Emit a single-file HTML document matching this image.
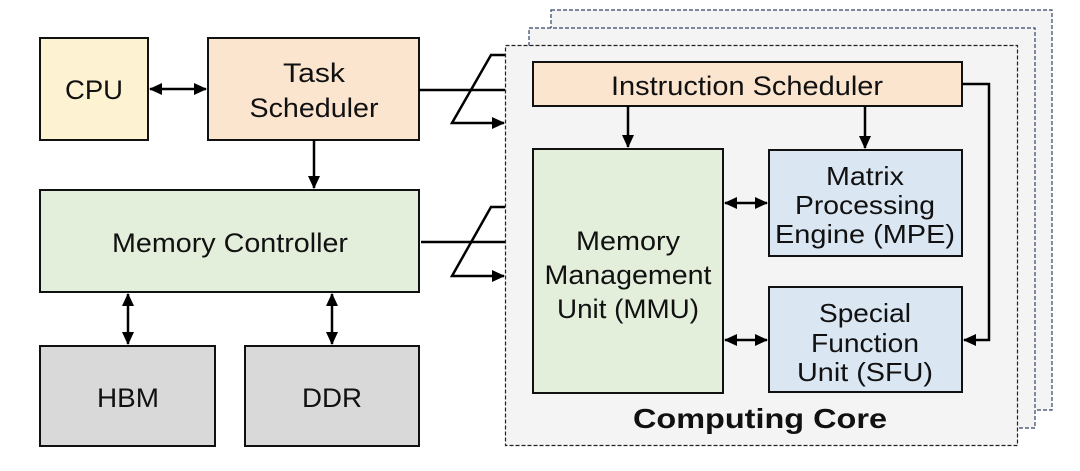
<!DOCTYPE html>
<html><head><meta charset="utf-8"><style>
html,body{margin:0;padding:0;background:#fff;}
svg{display:block;}
text{font-family:"Liberation Sans",Arial,sans-serif;fill:#111;}
</style></head><body>
<svg width="1080" height="471" viewBox="0 0 1080 471" xmlns="http://www.w3.org/2000/svg">
<defs>
<marker id="a" markerWidth="13" markerHeight="12" refX="12" refY="6" orient="auto-start-reverse" markerUnits="userSpaceOnUse">
<path d="M0,0 L13,6 L0,12 Z" fill="#000"/></marker>
</defs>
<rect x="551" y="10" width="501" height="400" fill="#f4f4f4" stroke="#334466" stroke-width="1.2" stroke-dasharray="4,2"/>
<rect x="529" y="28" width="506" height="400" fill="#f4f4f4" stroke="#334466" stroke-width="1.2" stroke-dasharray="4,2"/>
<rect x="505.5" y="45.5" width="512" height="400" fill="#f4f4f4" stroke="#222" stroke-width="1.2" stroke-dasharray="4,2"/>

<rect x="40" y="38" width="108" height="102" fill="#fdf3d2" stroke="#111" stroke-width="2"/>
<text x="94" y="99" font-size="27" text-anchor="middle" textLength="58" lengthAdjust="spacingAndGlyphs">CPU</text>
<rect x="208" y="38" width="211" height="102" fill="#fbe5cf" stroke="#111" stroke-width="2"/>
<text x="314" y="82" font-size="27" text-anchor="middle" textLength="62" lengthAdjust="spacingAndGlyphs">Task</text>
<text x="314" y="117" font-size="27" text-anchor="middle" textLength="129" lengthAdjust="spacingAndGlyphs">Scheduler</text>
<rect x="40" y="190" width="379" height="102" fill="#e3eedb" stroke="#111" stroke-width="2"/>
<text x="230" y="252" font-size="27" text-anchor="middle" textLength="236" lengthAdjust="spacingAndGlyphs">Memory Controller</text>
<rect x="40" y="346" width="175" height="100" fill="#d9d9d9" stroke="#111" stroke-width="2"/>
<text x="128" y="407" font-size="27" text-anchor="middle" textLength="62" lengthAdjust="spacingAndGlyphs">HBM</text>
<rect x="245" y="346" width="174" height="100" fill="#d9d9d9" stroke="#111" stroke-width="2"/>
<text x="332" y="407" font-size="27" text-anchor="middle" textLength="60" lengthAdjust="spacingAndGlyphs">DDR</text>

<g stroke="#000" stroke-width="2.5" fill="none">
<line x1="150" y1="89" x2="206" y2="89" marker-start="url(#a)" marker-end="url(#a)"/>
<line x1="314" y1="140" x2="314" y2="188" marker-end="url(#a)"/>
<line x1="128" y1="294" x2="128" y2="344" marker-start="url(#a)" marker-end="url(#a)"/>
<line x1="332" y1="294" x2="332" y2="344" marker-start="url(#a)" marker-end="url(#a)"/>
<line x1="419" y1="90" x2="505" y2="90"/>
<polyline points="505,55 491,55 452,123 504,123" marker-end="url(#a)"/>
<line x1="421" y1="242" x2="505" y2="242"/>
<polyline points="505,207 491,207 452,276 504,276" marker-end="url(#a)"/>
</g>

<rect x="533" y="62" width="429" height="44" fill="#fbe5cf" stroke="#111" stroke-width="2"/>
<text x="747" y="95" font-size="27" text-anchor="middle" textLength="272" lengthAdjust="spacingAndGlyphs">Instruction Scheduler</text>
<rect x="533" y="149" width="190" height="244" fill="#e3eedb" stroke="#111" stroke-width="2"/>
<text x="628" y="250" font-size="27" text-anchor="middle" textLength="104" lengthAdjust="spacingAndGlyphs">Memory</text>
<text x="628" y="284" font-size="27" text-anchor="middle" textLength="167" lengthAdjust="spacingAndGlyphs">Management</text>
<text x="628" y="318" font-size="27" text-anchor="middle" textLength="142" lengthAdjust="spacingAndGlyphs">Unit (MMU)</text>
<rect x="769" y="150" width="193" height="106" fill="#dae6f2" stroke="#111" stroke-width="2"/>
<text x="865" y="185" font-size="26" text-anchor="middle" textLength="78" lengthAdjust="spacingAndGlyphs">Matrix</text>
<text x="865" y="214" font-size="26" text-anchor="middle" textLength="140" lengthAdjust="spacingAndGlyphs">Processing</text>
<text x="865" y="243" font-size="26" text-anchor="middle" textLength="180" lengthAdjust="spacingAndGlyphs">Engine (MPE)</text>
<rect x="769" y="287" width="193" height="105" fill="#dae6f2" stroke="#111" stroke-width="2"/>
<text x="865" y="322" font-size="26" text-anchor="middle" textLength="92" lengthAdjust="spacingAndGlyphs">Special</text>
<text x="865" y="352" font-size="26" text-anchor="middle" textLength="108" lengthAdjust="spacingAndGlyphs">Function</text>
<text x="865" y="381" font-size="26" text-anchor="middle" textLength="136" lengthAdjust="spacingAndGlyphs">Unit (SFU)</text>
<text x="760" y="428" font-size="28" font-weight="bold" text-anchor="middle" textLength="254" lengthAdjust="spacingAndGlyphs">Computing Core</text>

<g stroke="#000" stroke-width="2.5" fill="none">
<line x1="628" y1="106" x2="628" y2="147" marker-end="url(#a)"/>
<line x1="865" y1="106" x2="865" y2="148" marker-end="url(#a)"/>
<line x1="725" y1="203" x2="767" y2="203" marker-start="url(#a)" marker-end="url(#a)"/>
<line x1="725" y1="340" x2="767" y2="340" marker-start="url(#a)" marker-end="url(#a)"/>
<polyline points="962,84 989,84 989,340 964,340" marker-end="url(#a)"/>
</g>
</svg>
</body></html>
